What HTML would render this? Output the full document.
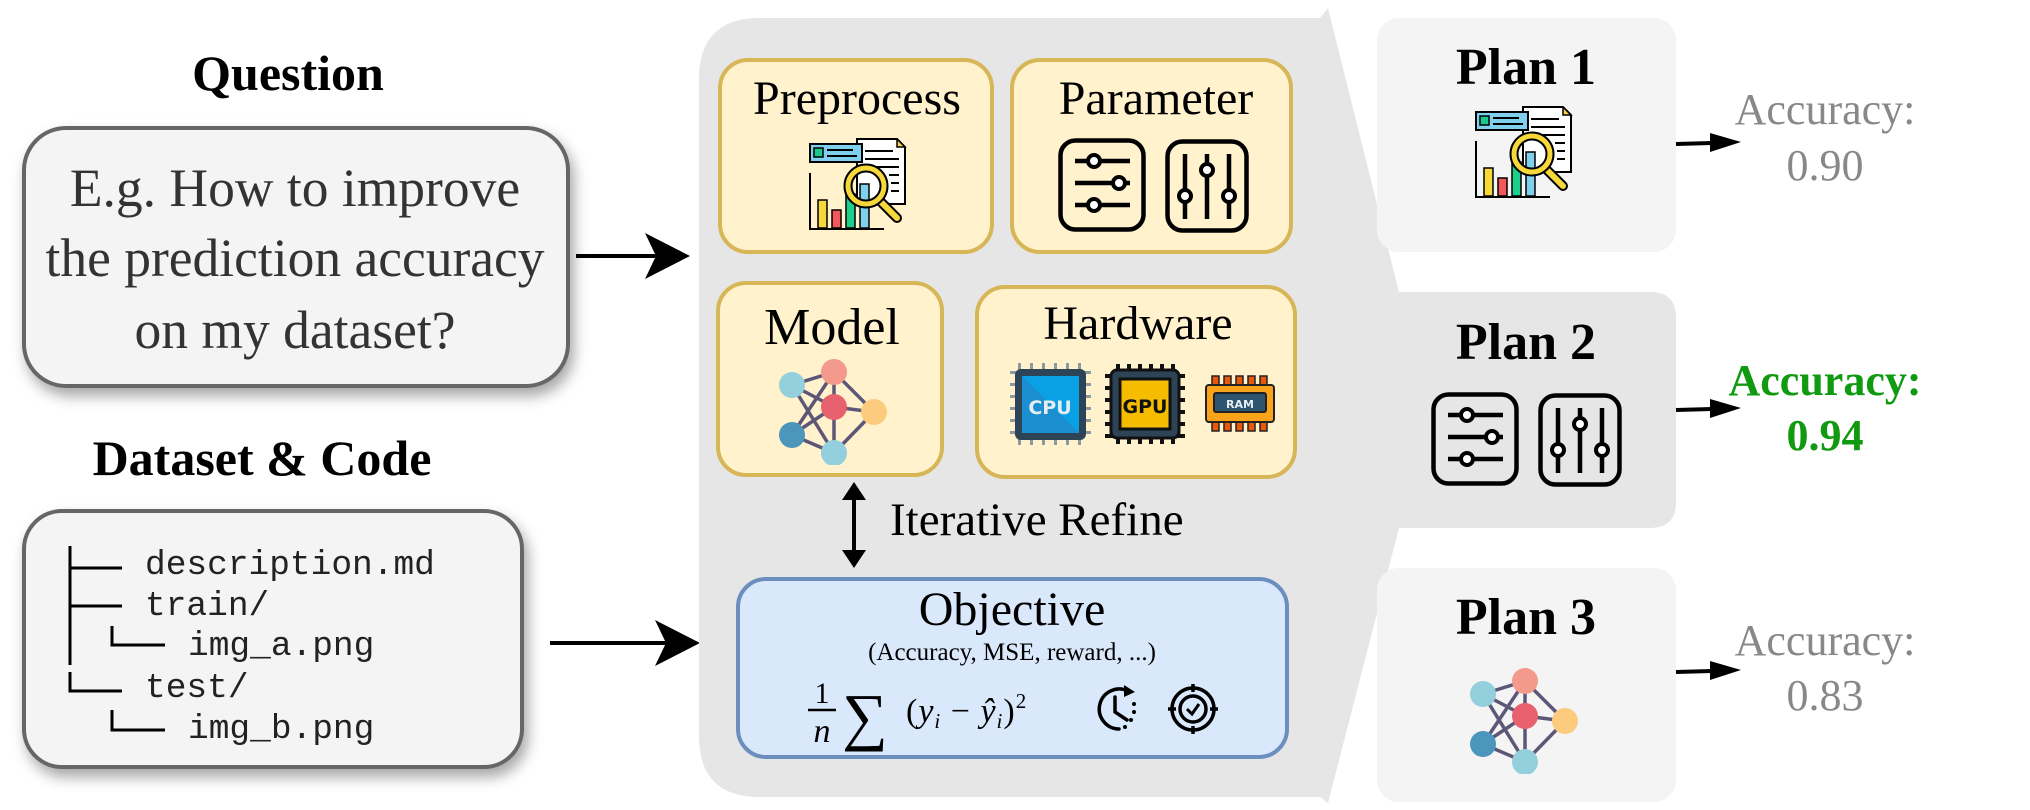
<!DOCTYPE html>
<html><head><meta charset="utf-8"><style>
html,body{margin:0;padding:0;background:#fff;}
svg{display:block;}
text{font-family:"Liberation Serif","DejaVu Serif",serif;}
text.mono{font-family:"Liberation Mono","DejaVu Sans Mono",monospace;}
text.sans{font-family:"DejaVu Sans","Liberation Sans",sans-serif;}
</style></head><body>
<svg width="2030" height="810" viewBox="0 0 2030 810" xmlns="http://www.w3.org/2000/svg">
<defs>
<filter id="sh" x="-10%" y="-10%" width="125%" height="130%">
<feDropShadow dx="4" dy="8" stdDeviation="7" flood-color="#000" flood-opacity="0.35"/>
</filter>
<symbol id="slH" viewBox="0 0 88 94">
<rect x="2.5" y="2.5" width="83" height="89" rx="15" fill="none" stroke="#000" stroke-width="4.5"/>
<g stroke="#000" stroke-width="4.5"><line x1="17" y1="23" x2="72" y2="23"/><line x1="17" y1="45" x2="72" y2="45"/><line x1="17" y1="67" x2="72" y2="67"/></g>
<g fill="#fff" stroke="#000" stroke-width="4"><circle cx="36" cy="23" r="6"/><circle cx="61" cy="45" r="6"/><circle cx="36" cy="67" r="6"/></g>
</symbol>
<symbol id="slV" viewBox="0 0 84 94">
<rect x="2.5" y="2.5" width="79" height="89" rx="15" fill="none" stroke="#000" stroke-width="4.5"/>
<g stroke="#000" stroke-width="4.5"><line x1="20" y1="15" x2="20" y2="80"/><line x1="42" y1="15" x2="42" y2="80"/><line x1="64" y1="15" x2="64" y2="80"/></g>
<g fill="#fff" stroke="#000" stroke-width="4"><circle cx="20" cy="57" r="6"/><circle cx="42" cy="31" r="6"/><circle cx="64" cy="57" r="6"/></g>
</symbol>
<symbol id="net" viewBox="0 0 110 106">
<g stroke="#5d5777" stroke-width="3.5" fill="none">
<line x1="14" y1="26" x2="56" y2="13"/><line x1="14" y1="26" x2="56" y2="48"/><line x1="14" y1="26" x2="56" y2="94"/>
<line x1="56" y1="13" x2="14" y2="76"/><line x1="56" y1="13" x2="96" y2="53"/><line x1="56" y1="13" x2="56" y2="48"/>
<line x1="56" y1="48" x2="96" y2="53"/><line x1="56" y1="48" x2="56" y2="94"/><line x1="14" y1="76" x2="56" y2="48"/>
<line x1="14" y1="76" x2="56" y2="94"/><line x1="96" y1="53" x2="56" y2="94"/>
</g>
<circle cx="14" cy="26" r="13" fill="#93cfdc"/><circle cx="56" cy="13" r="13" fill="#f39a8d"/>
<circle cx="56" cy="48" r="13" fill="#e8616f"/><circle cx="96" cy="53" r="13" fill="#fdcb7d"/>
<circle cx="14" cy="76" r="13" fill="#4b96ba"/><circle cx="56" cy="94" r="13" fill="#93cfdc"/>
</symbol>
<symbol id="doc" viewBox="0 0 98 92">
<path d="M48 1 H88 L96 9 V66 H48 Z" fill="#fff" stroke="#000" stroke-width="2"/>
<path d="M88 1 V9 H96 Z" fill="#f7d24a" stroke="#000" stroke-width="1.5"/>
<g stroke="#000" stroke-width="2"><line x1="56" y1="13" x2="84" y2="13"/><line x1="56" y1="21" x2="90" y2="21"/><line x1="56" y1="29" x2="90" y2="29"/><line x1="80" y1="37" x2="90" y2="37"/><line x1="82" y1="45" x2="90" y2="45"/><line x1="82" y1="53" x2="90" y2="53"/></g>
<rect x="1" y="6" width="52" height="18" fill="#7fd0ec" stroke="#000" stroke-width="2"/>
<rect x="5" y="10" width="9" height="9" fill="#1cc98a" stroke="#000" stroke-width="1.5"/>
<g stroke="#000" stroke-width="2"><line x1="18" y1="12" x2="44" y2="12"/><line x1="18" y1="18" x2="48" y2="18"/></g>
<path d="M1 35 V91 H75" fill="none" stroke="#000" stroke-width="2"/>
<rect x="9" y="62" width="9" height="28" fill="#f7d83a" stroke="#000" stroke-width="1.5"/>
<rect x="23" y="72" width="9" height="18" fill="#f2585a" stroke="#000" stroke-width="1.5"/>
<rect x="37" y="56" width="9" height="34" fill="#1ccf8a" stroke="#000" stroke-width="1.5"/>
<rect x="51" y="46" width="9" height="44" fill="#7fd0ec" stroke="#000" stroke-width="1.5"/>
<line x1="70" y1="62" x2="88" y2="80" stroke="#000" stroke-width="10" stroke-linecap="round"/>
<line x1="70" y1="62" x2="88" y2="80" stroke="#f7d83a" stroke-width="6" stroke-linecap="round"/>
<circle cx="57" cy="48" r="18" fill="none" stroke="#000" stroke-width="9"/>
<circle cx="57" cy="48" r="18" fill="none" stroke="#f7d83a" stroke-width="5"/>
</symbol>
</defs>

<text x="288" y="90" font-size="50" font-weight="bold" text-anchor="middle">Question</text>
<rect x="24" y="128" width="544" height="258" rx="42" fill="#f4f4f4" stroke="#666" stroke-width="4" filter="url(#sh)"/>
<g font-size="53.5" fill="#333" text-anchor="middle">
<text x="295" y="206">E.g. How to improve</text>
<text x="295" y="276">the prediction accuracy</text>
<text x="295" y="348">on my dataset?</text>
</g>
<line x1="576" y1="256" x2="660" y2="256" stroke="#000" stroke-width="4"/>
<path d="M645 233 L690 256 L645 279 L656 256 Z" fill="#000"/>

<text x="262" y="475" font-size="50" font-weight="bold" text-anchor="middle">Dataset &amp; Code</text>
<rect x="24" y="511" width="498" height="256" rx="38" fill="#f4f4f4" stroke="#666" stroke-width="4" filter="url(#sh)"/>
<g stroke="#000" stroke-width="3" fill="none">
<line x1="70" y1="546" x2="70" y2="665"/><line x1="70" y1="568" x2="122" y2="568"/><line x1="70" y1="606" x2="122" y2="606"/>
<path d="M112 626 V645 H165"/><path d="M70 672 V691 H122"/><path d="M112 710 V730 H165"/>
</g>
<g font-size="34.5" fill="#222">
<text class="mono" x="145" y="574">description.md</text>
<text class="mono" x="145" y="615">train/</text>
<text class="mono" x="188" y="655">img_a.png</text>
<text class="mono" x="145" y="697">test/</text>
<text class="mono" x="188" y="738">img_b.png</text>
</g>
<line x1="550" y1="643" x2="670" y2="643" stroke="#000" stroke-width="4"/>
<path d="M655 620 L700 643 L655 666 L666 643 Z" fill="#000"/>

<path d="M760 18 H1320 L1328 8 L1399 292 H1650 Q1676 292 1676 318 V502 Q1676 528 1650 528 H1399 L1328 803 L1320 797 H760 Q699 797 699 736 V79 Q699 18 760 18 Z" fill="#e6e6e6"/>

<rect x="1377" y="18" width="299" height="234" rx="22" fill="#f4f4f4"/>
<rect x="1377" y="568" width="299" height="234" rx="22" fill="#f4f4f4"/>

<g fill="#fff2cc" stroke="#d6b656" stroke-width="4">
<rect x="720" y="60" width="272" height="192" rx="28"/>
<rect x="1012" y="60" width="279" height="192" rx="28"/>
<rect x="718" y="283" width="224" height="192" rx="28"/>
<rect x="977" y="287" width="318" height="190" rx="28"/>
</g>
<g font-size="48" text-anchor="middle">
<text x="857" y="114">Preprocess</text>
<text x="1156" y="114">Parameter</text>
<text x="832" y="344" font-size="52">Model</text>
<text x="1138" y="339">Hardware</text>
</g>
<use href="#doc" x="809" y="138" width="98" height="92"/>
<use href="#slH" x="1058" y="138" width="88" height="94"/>
<use href="#slV" x="1165" y="139" width="84" height="94"/>
<use href="#net" x="778" y="359" width="110" height="106"/>

<g>
<g fill="#8a9aa0">
<rect x="1010" y="371" width="81" height="3"/><rect x="1010" y="383" width="81" height="3"/><rect x="1010" y="395" width="81" height="3"/><rect x="1010" y="407" width="81" height="3"/><rect x="1010" y="419" width="81" height="3"/><rect x="1010" y="431" width="81" height="3"/>
<rect x="1018" y="363" width="3" height="82"/><rect x="1030" y="363" width="3" height="82"/><rect x="1042" y="363" width="3" height="82"/><rect x="1054" y="363" width="3" height="82"/><rect x="1066" y="363" width="3" height="82"/><rect x="1078" y="363" width="3" height="82"/>
</g>
<rect x="1015" y="369" width="71" height="71" rx="6" fill="#2d4356"/>
<rect x="1022" y="376" width="57" height="57" fill="#1b8fd0"/>
<path d="M1022 376 H1079 V433 Z" fill="#0aa0e4"/>
<text class="sans" x="1050" y="414" font-size="19" font-weight="bold" fill="#e6eef2" text-anchor="middle">CPU</text>
</g>
<g>
<g fill="#111">
<rect x="1105" y="374" width="80" height="4"/><rect x="1105" y="386" width="80" height="4"/><rect x="1105" y="398" width="80" height="4"/><rect x="1105" y="410" width="80" height="4"/><rect x="1105" y="422" width="80" height="4"/><rect x="1105" y="434" width="80" height="4"/>
<rect x="1116" y="364" width="4" height="80"/><rect x="1127" y="364" width="4" height="80"/><rect x="1138" y="364" width="4" height="80"/><rect x="1149" y="364" width="4" height="80"/><rect x="1160" y="364" width="4" height="80"/><rect x="1171" y="364" width="4" height="80"/>
</g>
<rect x="1111" y="370" width="68" height="68" rx="6" fill="#2d4356" stroke="#111" stroke-width="3"/>
<rect x="1120" y="379" width="50" height="50" fill="#f6bd00" stroke="#111" stroke-width="3"/>
<text class="sans" x="1145" y="413" font-size="19" font-weight="bold" fill="#111" text-anchor="middle">GPU</text>
</g>
<g>
<g fill="#e8590c" stroke="#222" stroke-width="1.5">
<rect x="1212" y="376" width="7" height="10"/><rect x="1224" y="376" width="7" height="10"/><rect x="1236" y="376" width="7" height="10"/><rect x="1248" y="376" width="7" height="10"/><rect x="1260" y="376" width="7" height="10"/>
<rect x="1212" y="421" width="7" height="10"/><rect x="1224" y="421" width="7" height="10"/><rect x="1236" y="421" width="7" height="10"/><rect x="1248" y="421" width="7" height="10"/><rect x="1260" y="421" width="7" height="10"/>
</g>
<rect x="1206" y="385" width="68" height="37" rx="3" fill="#f9a31b" stroke="#222" stroke-width="2"/>
<rect x="1214" y="393" width="52" height="19" rx="2" fill="#2e5570" stroke="#222" stroke-width="2"/>
<text class="sans" x="1240" y="408" font-size="11" font-weight="bold" fill="#e6eef2" text-anchor="middle">RAM</text>
</g>

<line x1="854" y1="492" x2="854" y2="558" stroke="#000" stroke-width="4"/>
<path d="M842 500 L854 482 L866 500 Z M842 550 L854 568 L866 550 Z" fill="#000"/>
<text x="890" y="535" font-size="47">Iterative Refine</text>

<rect x="738" y="579" width="549" height="178" rx="28" fill="#dae8fc" stroke="#6c8ebf" stroke-width="4"/>
<text x="1012" y="625" font-size="48" text-anchor="middle">Objective</text>
<text x="1012" y="660" font-size="25" text-anchor="middle">(Accuracy, MSE, reward, ...)</text>
<text x="822" y="703" font-size="30" text-anchor="middle">1</text>
<line x1="808" y1="710" x2="836" y2="710" stroke="#000" stroke-width="2.5"/>
<text x="822" y="742" font-size="34" font-style="italic" text-anchor="middle">n</text>
<text x="842" y="738" font-size="64">∑</text>
<text x="906" y="722" font-size="34" letter-spacing="1">(<tspan font-style="italic">y</tspan><tspan font-size="21" font-style="italic" dy="6">i</tspan><tspan dy="-6">  −  </tspan><tspan font-style="italic">ŷ</tspan><tspan font-size="21" font-style="italic" dy="6">i</tspan><tspan dy="-6">)</tspan><tspan font-size="21" dy="-14">2</tspan></text>
<g fill="none" stroke="#000" stroke-width="3.5" stroke-linecap="round">
<path d="M1128 691 A20 20 0 1 0 1119 729"/>
<path d="M1115 697 V712 L1127 720"/>
</g>
<path d="M1124 685 L1135 692 L1124 697 Z" fill="#000"/>
<g fill="#000"><circle cx="1134" cy="704" r="2"/><circle cx="1134" cy="712" r="2"/><circle cx="1131" cy="720" r="2"/><circle cx="1125" cy="727" r="2"/></g>
<g fill="none" stroke="#000" stroke-width="3.5">
<circle cx="1193" cy="709" r="21"/><circle cx="1193" cy="709" r="13"/>
<line x1="1193" y1="684" x2="1193" y2="692"/><line x1="1193" y1="726" x2="1193" y2="734"/>
<line x1="1168" y1="709" x2="1176" y2="709"/><line x1="1210" y1="709" x2="1218" y2="709"/>
<path d="M1187 709 L1192 714 L1199 704" stroke-width="3"/>
</g>

<g font-size="52" font-weight="bold" text-anchor="middle">
<text x="1526" y="84">Plan 1</text>
<text x="1526" y="359">Plan 2</text>
<text x="1526" y="634">Plan 3</text>
</g>
<use href="#doc" x="1475" y="106" width="98" height="92"/>
<use href="#slH" x="1431" y="392" width="88" height="94"/>
<use href="#slV" x="1538" y="393" width="84" height="94"/>
<use href="#net" x="1469" y="668" width="110" height="106"/>

<g stroke="#000" stroke-width="4">
<line x1="1676" y1="144" x2="1712" y2="143"/>
<line x1="1676" y1="410" x2="1712" y2="409"/>
<line x1="1676" y1="672" x2="1712" y2="671"/>
</g>
<path d="M1710 133 L1741 142 L1710 152 Z M1710 399 L1741 408 L1710 418 Z M1710 661 L1741 670 L1710 680 Z" fill="#000"/>
<g font-size="44" text-anchor="middle" fill="#888">
<text x="1825" y="124">Accuracy:</text>
<text x="1825" y="180">0.90</text>
<text x="1825" y="655">Accuracy:</text>
<text x="1825" y="710">0.83</text>
</g>
<g font-size="44" font-weight="bold" text-anchor="middle" fill="#109a10">
<text x="1825" y="395">Accuracy:</text>
<text x="1825" y="450">0.94</text>
</g>
</svg>
</body></html>
